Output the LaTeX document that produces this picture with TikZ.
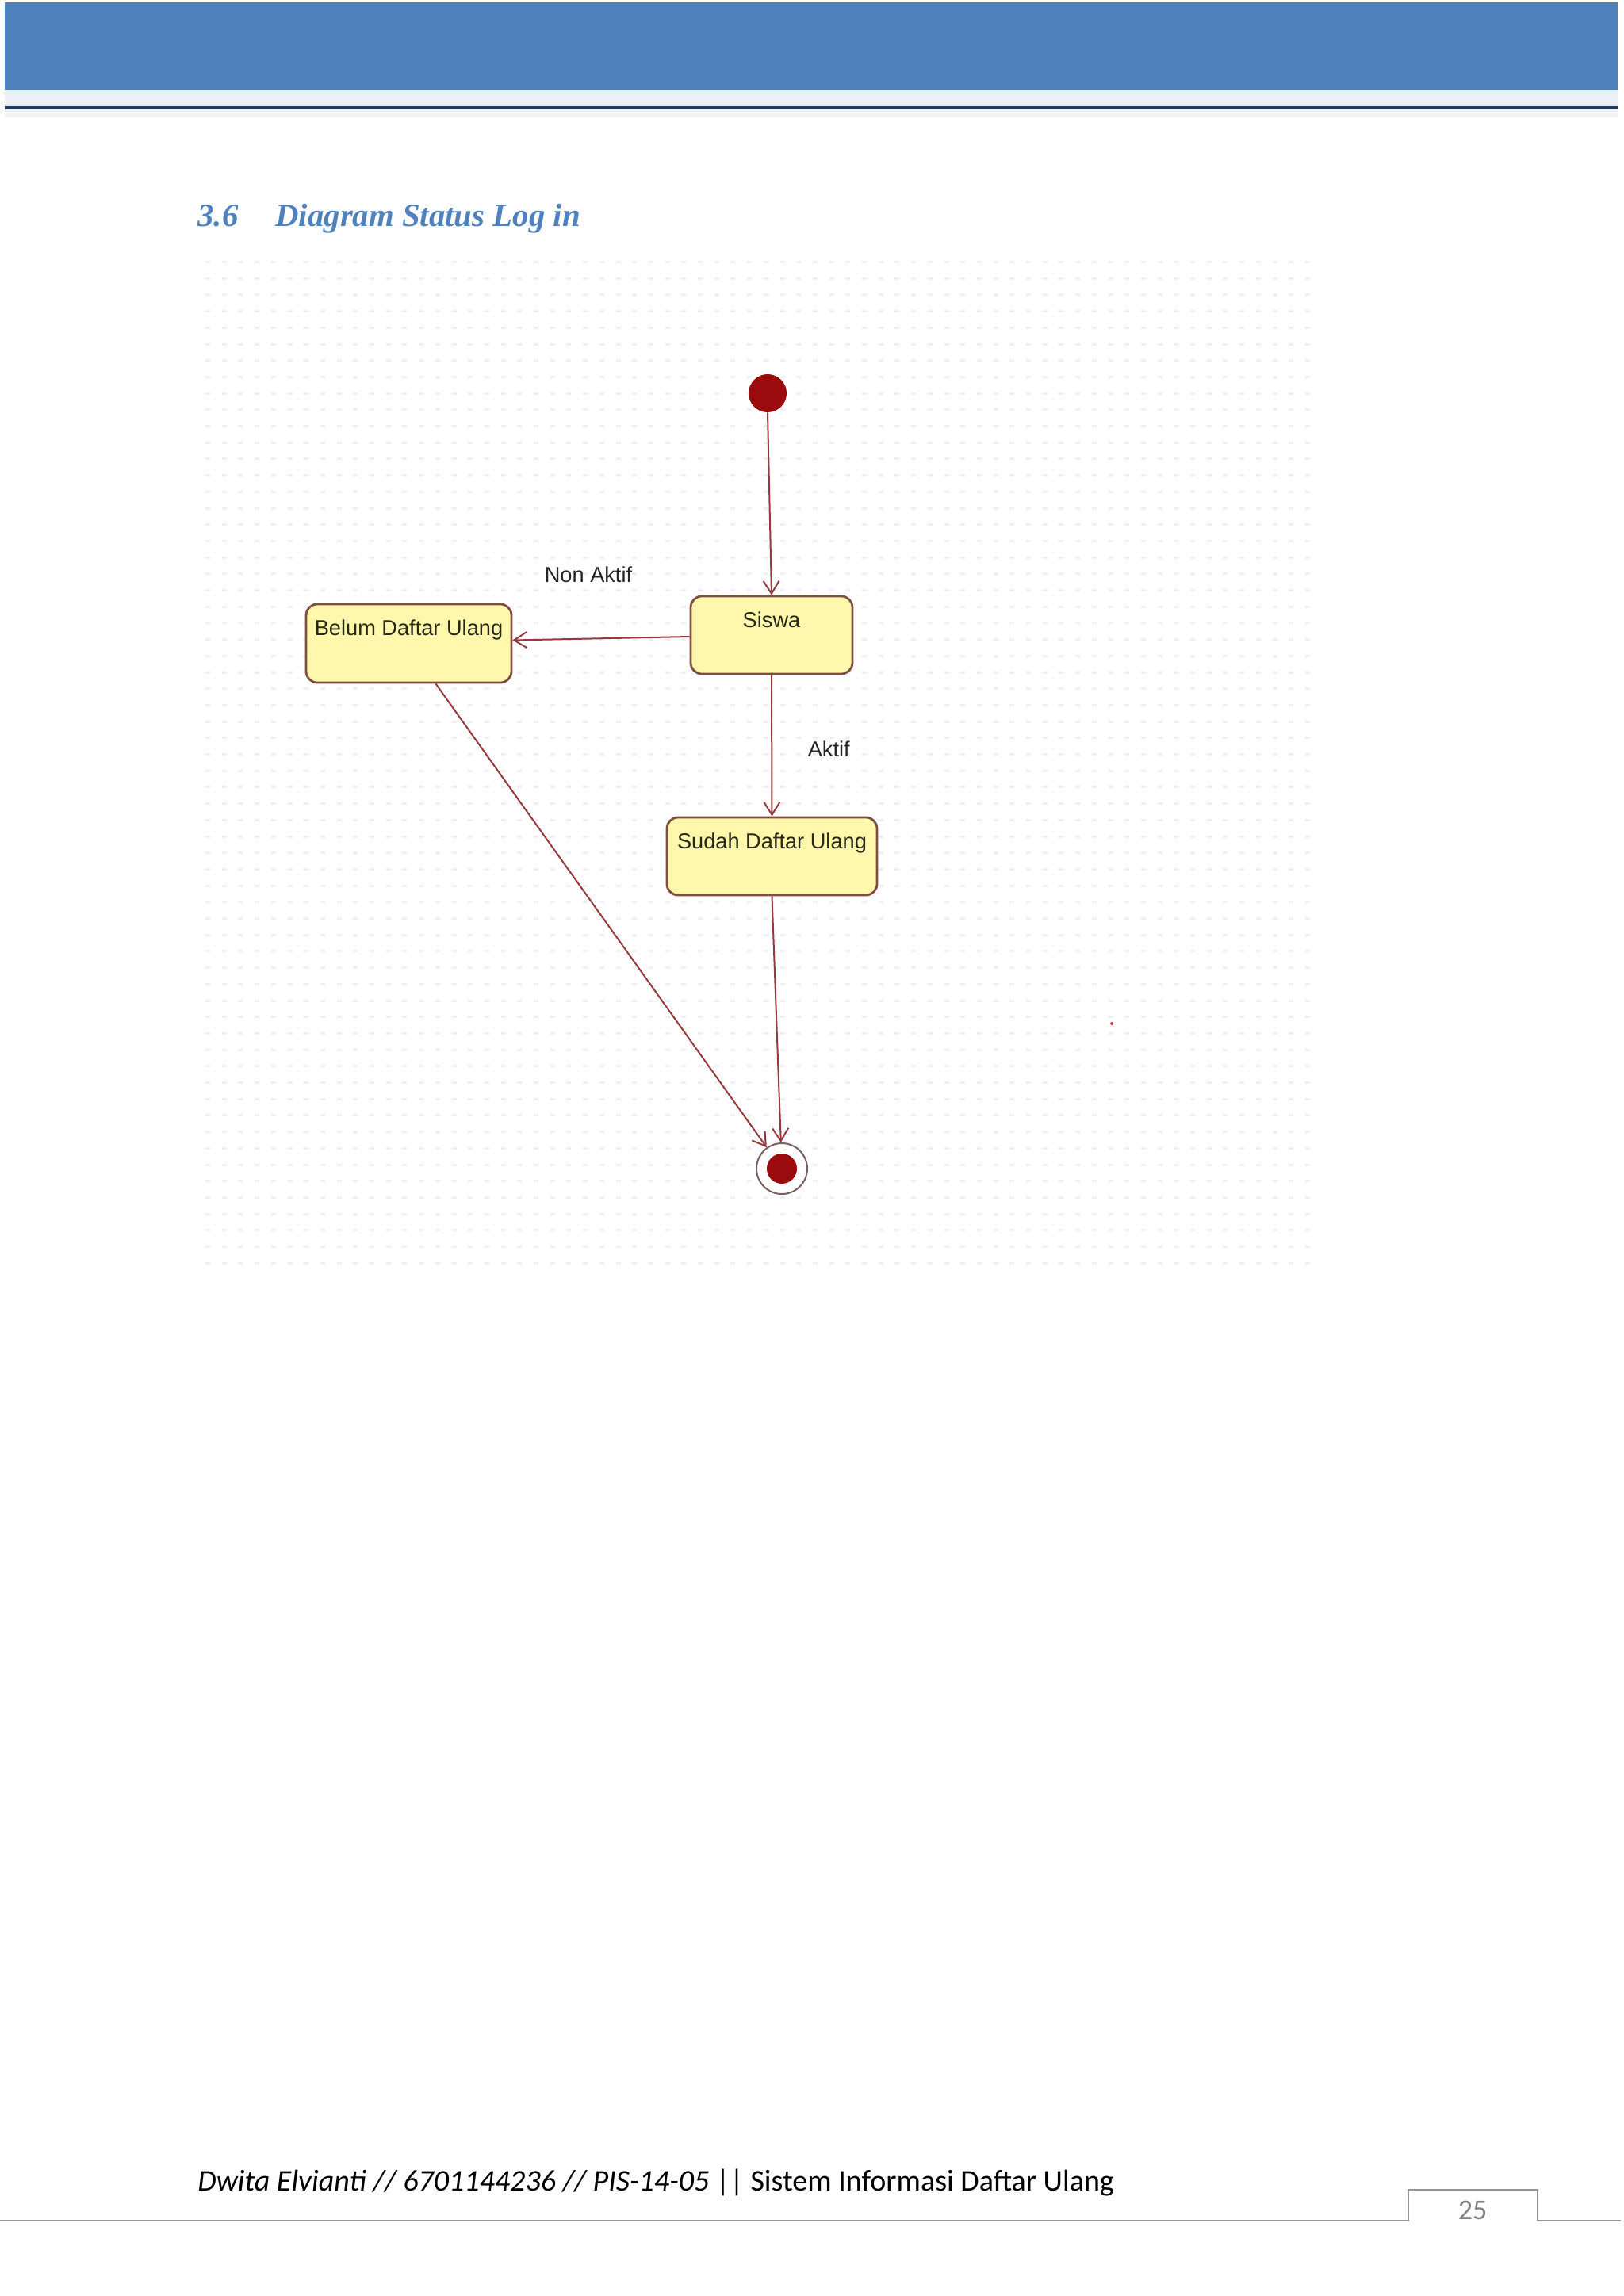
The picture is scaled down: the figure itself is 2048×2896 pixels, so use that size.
\documentclass[tikz,border=0pt]{standalone}
\usepackage{fontspec}
\setmainfont{Liberation Serif}
\newfontfamily\calib{Carlito}
\newfontfamily\umlfont{Liberation Sans}
\usetikzlibrary{arrows.meta}
\definecolor{hdrblue}{RGB}{79,129,189}
\definecolor{hdrlight}{RGB}{234,239,248}
\definecolor{hdrgrey}{RGB}{242,242,244}
\definecolor{hdrnavy}{RGB}{31,56,100}
\definecolor{griddot}{RGB}{238,238,243}
\definecolor{stfill}{RGB}{255,247,172}
\definecolor{stdraw}{RGB}{128,78,62}
\definecolor{conncol}{RGB}{148,58,62}
\definecolor{dotred}{RGB}{155,10,12}
\definecolor{ringcol}{RGB}{120,96,96}
\definecolor{sttextcol}{RGB}{40,40,20}
\definecolor{footgrey}{RGB}{150,150,150}
\definecolor{pagegrey}{RGB}{127,127,127}
\newcommand\sttext[1]{\raisebox{5pt}[0pt][0pt]{#1}}
\tikzset{
  statebox/.style={rectangle, rounded corners=7pt, draw=stdraw, fill=stfill, line width=1.4pt,
    font=\umlfont\fontsize{13.6pt}{16pt}\selectfont, text=sttextcol, inner sep=0pt},
  conn/.style={draw=conncol, line width=1pt, -{Straight Barb[length=8pt,width=10pt,line width=1pt]}},
  connlabel/.style={font=\umlfont\fontsize{13.6pt}{16pt}\selectfont, text=black!85, inner sep=0pt},
  initstate/.style={circle, fill=dotred, minimum size=24pt, inner sep=0pt},
  finalstate/.style={circle, draw=ringcol, line width=1pt, fill=white, minimum size=32pt, inner sep=0pt},
}
\begin{document}
\begin{tikzpicture}[x=0.5pt,y=-0.5pt]
\useasboundingbox (0,0) rectangle (2048,2896);
\fill[white] (0,0) rectangle (2048,2896);
% header
\fill[hdrlight] (6,112) rectangle (2040,134);
\fill[hdrblue] (6,3) rectangle (2040,114);
\fill[hdrgrey] (6,138) rectangle (2040,148);
\fill[hdrnavy] (6,134) rectangle (2040,138);
% title
\node[anchor=base west, inner sep=0pt, text=hdrblue, font=\bfseries\itshape\fontsize{20.4pt}{24pt}\selectfont] (secnum) at (249,285) {3.6};
\node[anchor=base west, inner sep=0pt, text=hdrblue, font=\bfseries\itshape\fontsize{20.4pt}{24pt}\selectfont] (sectitle) at (347,285) {Diagram Status Log in};
% grid dots
\foreach \i in {0,...,67} {
  \foreach \j in {0,...,61} {
    \fill[griddot] ({259+20.7*\i},{329+20.7*\j}) rectangle ++(6,3);
  }
}
% states
\node[initstate] (init) at (968,496) {};
\node[statebox, minimum width=102pt, minimum height=49pt] (siswa) at (973,801) {\sttext{Siswa}};
\node[statebox, minimum width=129.5pt, minimum height=49.5pt] (belum) at (515.5,811.5) {\sttext{Belum Daftar Ulang}};
\node[statebox, minimum width=132.5pt, minimum height=49pt] (sudah) at (973.5,1080) {\sttext{Sudah Daftar Ulang}};
\node[finalstate] (final) at (986,1474) {};
\node[circle, fill=dotred, minimum size=19pt, inner sep=0pt] (finaldot) at (final) {};
% transitions
\draw[conn] (init.south) -- (siswa.north);
\draw[conn] ([yshift=-1pt]siswa.west) -- node[connlabel, pos=0.5, xshift=-8pt, yshift=40pt] (lblnon) {Non Aktif} ([yshift=2pt]belum.east);
\draw[conn] (siswa.south) -- node[connlabel, pos=0.5, xshift=36pt, yshift=-2pt] (lblakt) {Aktif} (sudah.north);
\draw[conn] (sudah.south) -- (final);
\draw[conn] ([xshift=17pt]belum.south) -- (final);
\fill[red!80] (1402,1291) circle (2);
% footer
\node[anchor=base west, inner sep=0pt, font=\calib\fontsize{19pt}{22pt}\selectfont] (foottext) at (249,2763) {\textit{Dwita Elvianti // 6701144236 // PIS-14-05} || Sistem Informasi Daftar Ulang};
\draw[footgrey, line width=1pt] (0,2801) -- (1776,2801) -- (1776,2762) -- (1939,2762) -- (1939,2801) -- (2044,2801);
\node[anchor=base, inner sep=0pt, text=pagegrey, font=\calib\fontsize{18pt}{20pt}\selectfont] (pagenum) at (1857,2799) {25};
\end{tikzpicture}
\end{document}
